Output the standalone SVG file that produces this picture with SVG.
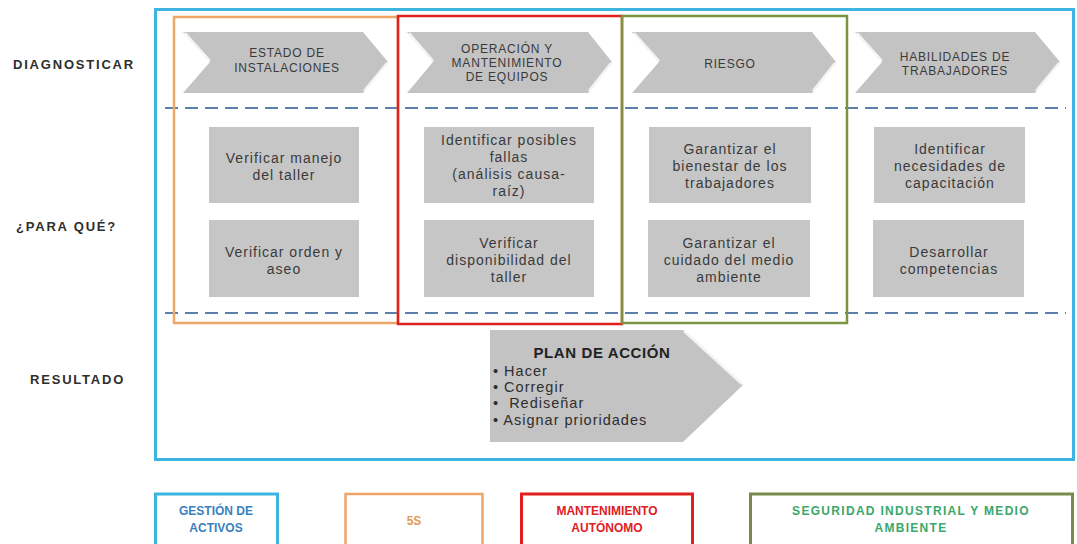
<svg xmlns="http://www.w3.org/2000/svg" width="1077" height="544" viewBox="0 0 1077 544">
<style>
.lbl{font-family:"Liberation Sans",Arial,sans-serif;font-weight:bold;font-size:13px;letter-spacing:1.8px;fill:#2e2e2e;}
.chev{fill:#c3c3c3;}
.hl{fill:none;stroke:#f4f4f4;stroke-width:2.5;}
.ct{font-family:"Liberation Sans",Arial,sans-serif;font-size:12px;letter-spacing:0.8px;fill:#3a3a3a;text-anchor:middle;}
.box{fill:#c6c6c6;}
.bt{font-family:"Liberation Sans",Arial,sans-serif;font-size:14px;letter-spacing:1px;fill:#3a3a3a;text-anchor:middle;}
.pt{font-family:"Liberation Sans",Arial,sans-serif;font-size:14.5px;letter-spacing:1px;fill:#2e2e2e;}
.dash{stroke:#5b80ae;stroke-width:2;stroke-dasharray:13 7;fill:none;}
.lg{font-family:"Liberation Sans",Arial,sans-serif;font-weight:bold;font-size:12px;text-anchor:middle;}
</style>
<rect width="1077" height="544" fill="#ffffff"/>

<g id="labels">
<text class="lbl" x="13" y="69">DIAGNOSTICAR</text>
<text class="lbl" x="16" y="231">¿PARA QUÉ?</text>
<text class="lbl" x="30" y="384">RESULTADO</text>
</g>

<g id="frame-gestion">
<rect x="155.5" y="9.5" width="918" height="450" fill="none" stroke="#3db5e0" stroke-width="3"/>
</g>

<g id="connectors">
<line class="dash" x1="165" y1="108" x2="1066" y2="108"/>
<line class="dash" x1="165" y1="313" x2="1066" y2="313"/>
</g>

<g id="frame-5s">
<rect x="174" y="17" width="224" height="306" fill="none" stroke="#efa565" stroke-width="2.5"/>
</g>
<g id="frame-mantenimiento">
<rect x="398" y="16" width="224" height="308" fill="none" stroke="#e0201f" stroke-width="2.5"/>
</g>
<g id="frame-seguridad">
<rect x="622" y="16" width="225" height="307" fill="none" stroke="#7a9440" stroke-width="2.5"/>
</g>

<g id="chev-estado">
<polygon class="chev" points="183,32 363,32 388,62 363,93 183,93 210,62"/>
<polyline class="hl" points="185,33 210,61"/>
<polyline class="hl" points="364,91 387,63"/>
<text class="ct" x="287" y="57">ESTADO DE</text>
<text class="ct" x="287" y="72">INSTALACIONES</text>
</g>
<g id="chev-operacion">
<polygon class="chev" points="407,32 588,32 612,62 588,93 407,93 433,62"/>
<polyline class="hl" points="409,33 433,61"/>
<polyline class="hl" points="589,91 611,63"/>
<text class="ct" x="507" y="53">OPERACIÓN Y</text>
<text class="ct" x="507" y="67">MANTENIMIENTO</text>
<text class="ct" x="507" y="81">DE EQUIPOS</text>
</g>
<g id="chev-riesgo">
<polygon class="chev" points="632,32 812,32 836,62 812,93 632,93 659,62"/>
<polyline class="hl" points="634,33 659,61"/>
<polyline class="hl" points="813,91 835,63"/>
<text class="ct" x="730" y="68">RIESGO</text>
</g>
<g id="chev-habilidades">
<polygon class="chev" points="855,32 1035,32 1060,62 1035,93 855,93 882,62"/>
<polyline class="hl" points="857,33 882,61"/>
<polyline class="hl" points="1036,91 1059,63"/>
<text class="ct" x="955" y="61">HABILIDADES DE</text>
<text class="ct" x="955" y="75">TRABAJADORES</text>
</g>

<g id="box-manejo">
<rect class="box" x="209" y="127" width="150" height="76"/>
<text class="bt" x="284" y="163">Verificar manejo</text>
<text class="bt" x="284" y="180">del taller</text>
</g>
<g id="box-orden">
<rect class="box" x="209" y="220" width="150" height="77"/>
<text class="bt" x="284" y="257">Verificar orden y</text>
<text class="bt" x="284" y="274">aseo</text>
</g>
<g id="box-fallas">
<rect class="box" x="424" y="127" width="170" height="76"/>
<text class="bt" x="509" y="145">Identificar posibles</text>
<text class="bt" x="509" y="162">fallas</text>
<text class="bt" x="509" y="179">(análisis causa-</text>
<text class="bt" x="509" y="196">raíz)</text>
</g>
<g id="box-disponibilidad">
<rect class="box" x="424" y="220" width="170" height="77"/>
<text class="bt" x="509" y="248">Verificar</text>
<text class="bt" x="509" y="265">disponibilidad del</text>
<text class="bt" x="509" y="282">taller</text>
</g>
<g id="box-bienestar">
<rect class="box" x="649" y="127" width="162" height="76"/>
<text class="bt" x="730" y="154">Garantizar  el</text>
<text class="bt" x="730" y="171">bienestar de los</text>
<text class="bt" x="730" y="188">trabajadores</text>
</g>
<g id="box-medio">
<rect class="box" x="648" y="220" width="162" height="77"/>
<text class="bt" x="729" y="248">Garantizar  el</text>
<text class="bt" x="729" y="265">cuidado del medio</text>
<text class="bt" x="729" y="282">ambiente</text>
</g>
<g id="box-capacitacion">
<rect class="box" x="874" y="127" width="151" height="76"/>
<text class="bt" x="950" y="154">Identificar</text>
<text class="bt" x="950" y="171">necesidades de</text>
<text class="bt" x="950" y="188">capacitación</text>
</g>
<g id="box-competencias">
<rect class="box" x="873" y="220" width="151" height="77"/>
<text class="bt" x="949" y="257">Desarrollar</text>
<text class="bt" x="949" y="274">competencias</text>
</g>

<g id="plan-accion">
<polygon class="chev" points="490,330 683,330 743,385 683,442 490,442"/>
<polyline class="hl" points="684,331 742,384"/>
<text x="602" y="358" font-family="'Liberation Sans',Arial,sans-serif" font-weight="bold" font-size="15" letter-spacing="0.6" fill="#222" text-anchor="middle">PLAN DE ACCIÓN</text>
<text class="pt" x="493" y="376">• Hacer</text>
<text class="pt" x="493" y="392">• Corregir</text>
<text class="pt" x="493" y="408" xml:space="preserve">•  Rediseñar</text>
<text class="pt" x="493" y="425">• Asignar prioridades</text>
</g>

<g id="legend-gestion">
<rect x="155.5" y="494" width="122" height="54" fill="none" stroke="#3db5e0" stroke-width="3"/>
<text class="lg" x="216" y="515" fill="#3a80bf">GESTIÓN DE</text>
<text class="lg" x="216" y="532" fill="#3a80bf">ACTIVOS</text>
</g>
<g id="legend-5s">
<rect x="345.5" y="494" width="137" height="54" fill="none" stroke="#efa565" stroke-width="2.5"/>
<text class="lg" x="414" y="525" fill="#e39a5a">5S</text>
</g>
<g id="legend-mantenimiento">
<rect x="521.5" y="494" width="171" height="54" fill="none" stroke="#e0201f" stroke-width="3"/>
<text class="lg" x="607" y="515" fill="#e0201f">MANTENIMIENTO</text>
<text class="lg" x="607" y="532" fill="#e0201f">AUTÓNOMO</text>
</g>
<g id="legend-seguridad">
<rect x="750.5" y="494" width="322" height="54" fill="none" stroke="#7a8a48" stroke-width="3"/>
<text class="lg" x="911" y="515" fill="#3aa86a" font-size="13" letter-spacing="1.3">SEGURIDAD INDUSTRIAL Y MEDIO</text>
<text class="lg" x="911" y="532" fill="#3aa86a" font-size="13" letter-spacing="1.3">AMBIENTE</text>
</g>
</svg>
